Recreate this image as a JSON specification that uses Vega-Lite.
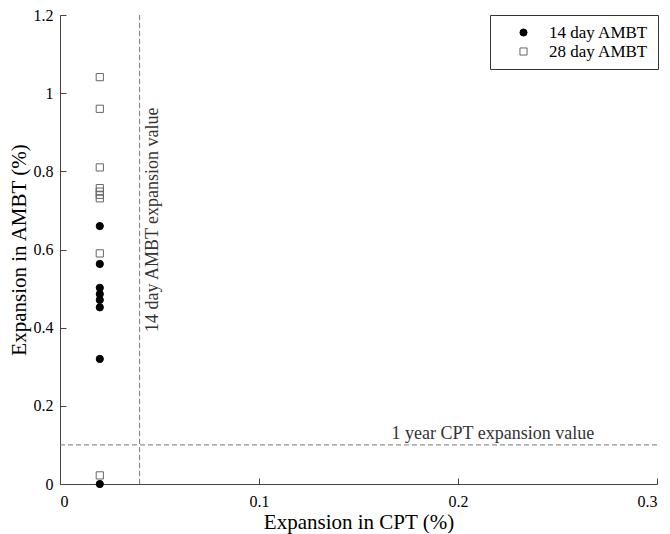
{
  "$schema": "https://vega.github.io/schema/vega-lite/v6.json",
  "autosize": "none",
  "width": 597,
  "height": 469,
  "padding": {"left": 60, "top": 15, "right": 13, "bottom": 50},
  "background": "white",
  "config": {
    "view": {"stroke": null},
    "font": "Liberation Serif",
    "axis": {
      "grid": false,
      "domainColor": "#444",
      "tickColor": "#444",
      "labelColor": "#000",
      "titleColor": "#000",
      "labelFont": "Liberation Serif",
      "titleFont": "Liberation Serif",
      "labelFontSize": 16,
      "titleFontSize": 21,
      "titleFontWeight": "normal",
      "tickSize": -6
    }
  },
  "layer": [
    {
      "data": {"values": [{"v": 0.04}]},
      "mark": {"type": "rule", "color": "#777", "strokeDash": [5, 3], "strokeWidth": 1},
      "encoding": {"x": {"field": "v", "type": "quantitative", "scale": {"domain": [0, 0.3]}}}
    },
    {
      "data": {"values": [{"v": 0.1}]},
      "mark": {"type": "rule", "color": "#777", "strokeDash": [5, 3], "strokeWidth": 1},
      "encoding": {"y": {"field": "v", "type": "quantitative", "scale": {"domain": [0, 1.2]}}}
    },
    {
      "data": {"values": [
        {"cpt": 0.02, "ambt": 0.66, "series": "14 day AMBT"},
        {"cpt": 0.02, "ambt": 0.563, "series": "14 day AMBT"},
        {"cpt": 0.02, "ambt": 0.502, "series": "14 day AMBT"},
        {"cpt": 0.02, "ambt": 0.486, "series": "14 day AMBT"},
        {"cpt": 0.02, "ambt": 0.471, "series": "14 day AMBT"},
        {"cpt": 0.02, "ambt": 0.452, "series": "14 day AMBT"},
        {"cpt": 0.02, "ambt": 0.32, "series": "14 day AMBT"},
        {"cpt": 0.02, "ambt": 0.0, "series": "14 day AMBT"},
        {"cpt": 0.02, "ambt": 1.041, "series": "28 day AMBT"},
        {"cpt": 0.02, "ambt": 0.96, "series": "28 day AMBT"},
        {"cpt": 0.02, "ambt": 0.81, "series": "28 day AMBT"},
        {"cpt": 0.02, "ambt": 0.757, "series": "28 day AMBT"},
        {"cpt": 0.02, "ambt": 0.748, "series": "28 day AMBT"},
        {"cpt": 0.02, "ambt": 0.74, "series": "28 day AMBT"},
        {"cpt": 0.02, "ambt": 0.731, "series": "28 day AMBT"},
        {"cpt": 0.02, "ambt": 0.59, "series": "28 day AMBT"},
        {"cpt": 0.02, "ambt": 0.022, "series": "28 day AMBT"}
      ]},
      "mark": {"type": "point", "filled": false, "strokeWidth": 1, "opacity": 1, "clip": false},
      "encoding": {
        "x": {"field": "cpt", "type": "quantitative", "title": "Expansion in CPT (%)",
              "scale": {"domain": [0, 0.3], "nice": false},
              "axis": {"values": [0, 0.1, 0.2, 0.3], "format": "~g", "labelPadding": 15, "titlePadding": 2}},
        "y": {"field": "ambt", "type": "quantitative", "title": "Expansion in AMBT (%)",
              "scale": {"domain": [0, 1.2], "nice": false},
              "axis": {"values": [0, 0.2, 0.4, 0.6, 0.8, 1, 1.2], "format": "~g", "labelPadding": 13, "titlePadding": 4}},
        "shape": {"field": "series", "type": "nominal", "title": null,
                  "scale": {"domain": ["14 day AMBT", "28 day AMBT"], "range": ["circle", "square"]}},
        "fill": {"field": "series", "type": "nominal", "title": null,
                 "scale": {"domain": ["14 day AMBT", "28 day AMBT"], "range": ["#000000", "transparent"]}},
        "stroke": {"field": "series", "type": "nominal", "title": null,
                   "scale": {"domain": ["14 day AMBT", "28 day AMBT"], "range": ["#000000", "#666666"]},
                   "legend": {"orient": "none", "legendX": 430, "legendY": 0, "strokeColor": "#333", "fillColor": "white",
                              "padding": 9, "symbolOffset": 16, "labelOffset": 17, "labelFontSize": 17,
                              "labelFont": "Liberation Serif", "labelColor": "#000", "rowPadding": 1, "symbolSize": 50, "symbolStrokeWidth": 1}},
        "size": {"value": 52}
      }
    },
    {
      "data": {"values": [{"x": 0.2175, "y": 0.114, "t": "1 year CPT expansion value"}]},
      "mark": {"type": "text", "fontSize": 18, "font": "Liberation Serif", "color": "#333", "baseline": "alphabetic", "align": "center"},
      "encoding": {
        "x": {"field": "x", "type": "quantitative"},
        "y": {"field": "y", "type": "quantitative"},
        "text": {"field": "t"}
      }
    },
    {
      "data": {"values": [{"x": 0.0423, "y": 0.676, "t": "14 day AMBT expansion value"}]},
      "mark": {"type": "text", "fontSize": 18, "font": "Liberation Serif", "color": "#333", "angle": 270, "baseline": "top", "align": "center"},
      "encoding": {
        "x": {"field": "x", "type": "quantitative"},
        "y": {"field": "y", "type": "quantitative"},
        "text": {"field": "t"}
      }
    }
  ]
}
